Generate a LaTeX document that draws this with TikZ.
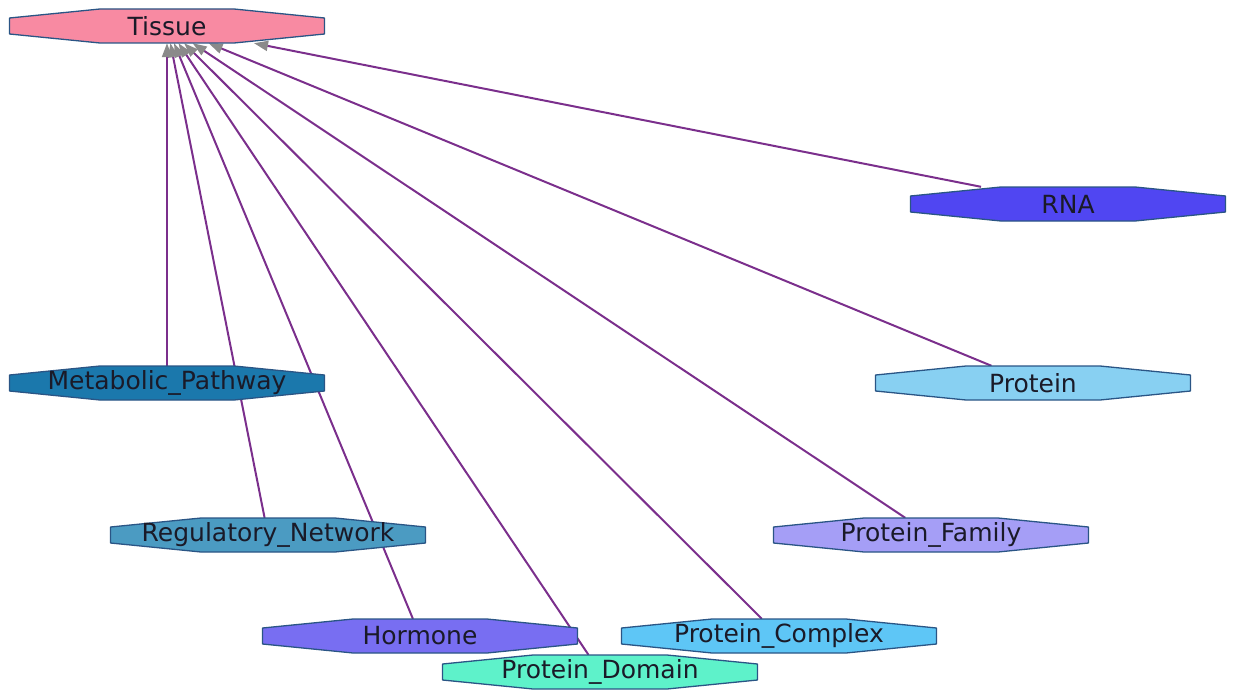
\documentclass[tikz,border=0pt]{standalone}
\usepackage{fontspec}
\setmainfont{DejaVu Sans}
\usetikzlibrary{arrows.meta}
\pgfdeclarelayer{background}
\pgfsetlayers{background,main}
\definecolor{edgec}{HTML}{7B2F8C}
\definecolor{bordc}{HTML}{2A5585}
\definecolor{tipc}{HTML}{8A8A8A}
\definecolor{txtc}{HTML}{1A1A28}
\definecolor{cTissue}{HTML}{F88AA2}
\definecolor{cRNA}{HTML}{5046F2}
\definecolor{cMeta}{HTML}{1B78AC}
\definecolor{cProt}{HTML}{88D0F2}
\definecolor{cReg}{HTML}{4B9BC2}
\definecolor{cFam}{HTML}{A59EF6}
\definecolor{cHorm}{HTML}{786EF2}
\definecolor{cComp}{HTML}{5EC6F6}
\definecolor{cDom}{HTML}{5EF2CA}
\tikzset{
  octshape/.style={draw=bordc, line width=1.3pt, line join=round},
  octtext/.style={rectangle, minimum width=315pt, minimum height=34pt, inner sep=0pt,
    text=txtc, font=\fontsize{25}{28}\selectfont},
  link/.style={draw=edgec, line width=2pt, -{Triangle[length=14pt,width=10pt,fill=tipc,color=tipc]}}
}
\newcommand{\octnode}[5]{%
  \path[octshape, fill=#4] (#2-157.5,#3-8) -- (#2-67,#3-17) -- (#2+67,#3-17) -- (#2+157.5,#3-8)
    -- (#2+157.5,#3+8) -- (#2+67,#3+17) -- (#2-67,#3+17) -- (#2-157.5,#3+8) -- cycle;
  \node[octtext] (#1) at (#2,#3) {#5};}
\begin{document}
\begin{tikzpicture}[x=1pt,y=-1pt]
\useasboundingbox (0,0) rectangle (1236,690);
\octnode{tissue}{167}{26}{cTissue}{Tissue}
\octnode{rna}{1068}{204}{cRNA}{RNA}
\octnode{meta}{167}{383}{cMeta}{Metabolic\_Pathway}
\octnode{prot}{1033}{383}{cProt}{Protein}
\octnode{reg}{268}{535}{cReg}{Regulatory\_Network}
\octnode{fam}{931}{535}{cFam}{Protein\_Family}
\octnode{comp}{779}{636}{cComp}{Protein\_Complex}
\octnode{horm}{420}{636}{cHorm}{Hormone}
\octnode{dom}{600}{672}{cDom}{Protein\_Domain}
\begin{pgfonlayer}{background}
\draw[link] (meta) -- (tissue);
\draw[link] (reg) -- (tissue);
\draw[link] (horm) -- (tissue);
\draw[link] (dom) -- (tissue);
\draw[link] (comp) -- (tissue);
\draw[link] (fam) -- (tissue);
\draw[link] (prot) -- (tissue);
\draw[link] (rna) -- (tissue);
\end{pgfonlayer}
\end{tikzpicture}
\end{document}
